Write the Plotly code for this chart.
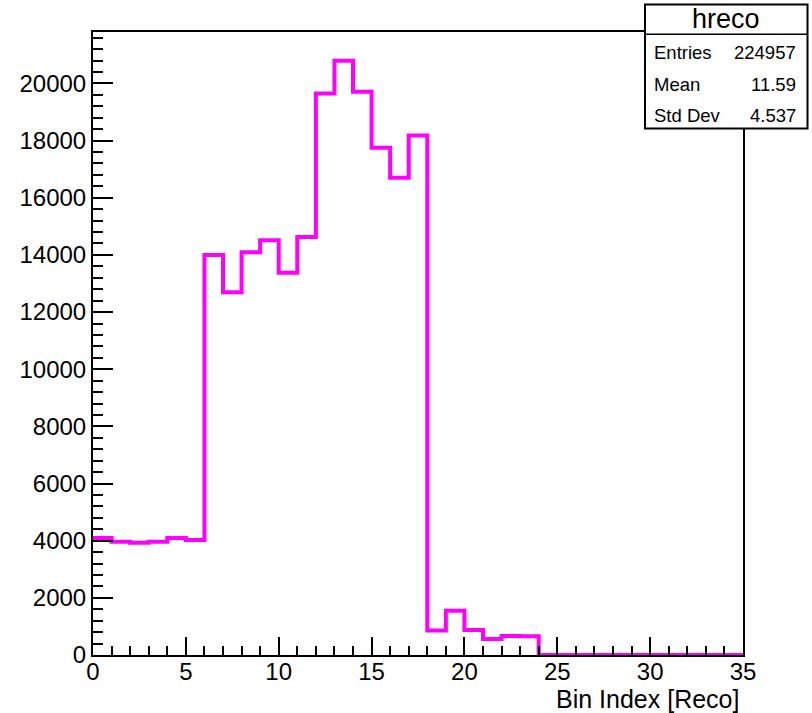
import plotly.graph_objects as go

# ---- data ----
bin_edges = list(range(0, 36))
bin_counts = [4090, 3960, 3930, 3960, 4090, 4020,
              14000, 12690, 14090, 14510, 13380, 14630,
              19650, 20790, 19710, 17750, 16700, 18180,
              860, 1550, 875, 560, 665, 660,
              0, 0, 0, 0, 0, 0, 0, 0, 0, 0, 0]
hist_name = "hreco"
stat_labels = ["Entries", "Mean", "Std Dev"]
stat_values = ["224957", "11.59", "4.537"]
x_title = "Bin Index [Reco]"

W, H = 812, 713
L, R, T, B = 93, 743, 32, 655
FONT = "Liberation Sans, Arial, Helvetica, sans-serif"


def px(xp):
    return (xp - L) / (R - L)


def py(yp):
    return (B - yp) / (B - T)


fig = go.Figure()
fig.add_trace(go.Scatter(
    x=bin_edges,
    y=bin_counts + [bin_counts[-1]],
    mode="lines",
    line=dict(shape="hv", color="#ff00ff", width=4),
    hoverinfo="skip",
    showlegend=False,
    cliponaxis=False,
))

fig.update_layout(
    width=W, height=H,
    margin=dict(l=L, r=W - R, t=T, b=H - B, pad=0),
    paper_bgcolor="white", plot_bgcolor="white",
    font=dict(family=FONT, size=24, color="black"),
    showlegend=False,
    xaxis=dict(
        range=[0, 35], showgrid=False, zeroline=False,
        showline=True, linecolor="black", linewidth=2, mirror=True,
        ticks="inside", ticklen=18, tickwidth=2, tickcolor="black",
        tick0=0, dtick=5, tickformat="d", ticklabelstandoff=-6,
        minor=dict(ticks="inside", ticklen=9, tickwidth=2, tickcolor="black", dtick=1, showgrid=False),
        tickfont=dict(size=24),
    ),
    yaxis=dict(
        range=[0, 21800], showgrid=False, zeroline=False,
        showline=True, linecolor="black", linewidth=2, mirror=True,
        ticks="inside", ticklen=20, tickwidth=2, tickcolor="black",
        tick0=0, dtick=2000, tickformat="d",
        minor=dict(ticks="inside", ticklen=10, tickwidth=2, tickcolor="black", dtick=400, showgrid=False),
        tickfont=dict(size=24),
    ),
)

# x axis title (right aligned, ROOT style)
fig.add_annotation(xref="paper", yref="paper", x=px(741), y=py(699),
                   text=x_title, showarrow=False, xanchor="right", yanchor="middle",
                   font=dict(size=25, family=FONT))

# stats box
bx0, bx1, by0, by1, bdiv = 645, 807.5, 4.5, 128.5, 34.3
fig.add_shape(type="rect", xref="paper", yref="paper",
              x0=px(bx0), x1=px(bx1), y0=py(by1), y1=py(by0),
              line=dict(color="black", width=2), fillcolor="white", layer="above")
fig.add_shape(type="line", xref="paper", yref="paper",
              x0=px(bx0), x1=px(bx1), y0=py(bdiv), y1=py(bdiv),
              line=dict(color="black", width=1.5), layer="above")
fig.add_annotation(xref="paper", yref="paper", x=px((bx0 + bx1) / 2), y=py(19),
                   text=hist_name, showarrow=False, xanchor="center", yanchor="middle",
                   font=dict(size=27, family=FONT))
row_y = [53, 84, 115]
for lab, val, yy in zip(stat_labels, stat_values, row_y):
    fig.add_annotation(xref="paper", yref="paper", x=px(652), y=py(yy),
                       text=lab, showarrow=False, xanchor="left", yanchor="middle",
                       font=dict(size=18.5, family=FONT))
    fig.add_annotation(xref="paper", yref="paper", x=px(798), y=py(yy),
                       text=val, showarrow=False, xanchor="right", yanchor="middle",
                       font=dict(size=18.5, family=FONT))

fig.write_html("out.html")
